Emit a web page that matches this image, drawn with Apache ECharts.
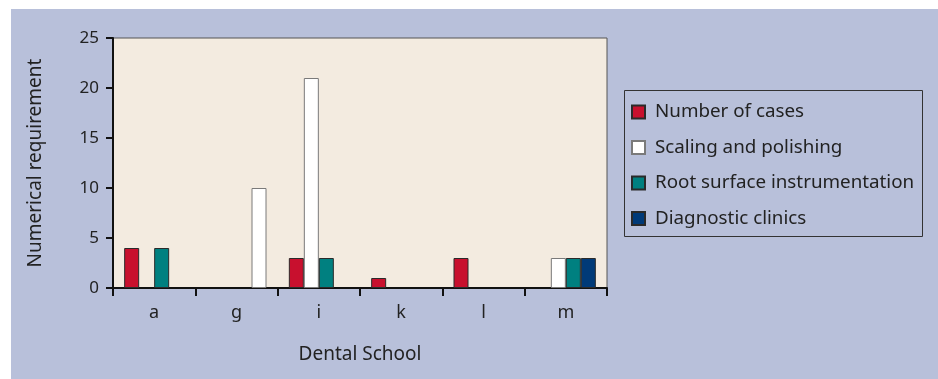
<!DOCTYPE html>
<html>
<head>
    <meta charset="utf-8">
    <title>Dental School requirements</title>
    <script src="https://cdn.jsdelivr.net/npm/echarts@6/dist/echarts.min.js"></script>
    <style>
        body { margin: 0; background: #ffffff; }
        #bg { position: absolute; left: 11px; top: 9px; width: 927px; height: 370px; background: #b8c0da; }
        #main { position: absolute; left: 0; top: 0; width: 938px; height: 379px; }
    </style>
</head>
<body>
    <div id="bg"></div>
    <div id="main"></div>
    <script type="text/javascript">
        var schools = ['a', 'g', 'i', 'k', 'l', 'm'];
        var numberOfCases = [4, 0, 3, 1, 3, 0];
        var scalingPolishing = [0, 0, 21, 0, 0, 3];
        var rootSurface = [4, 0, 3, 0, 0, 3];
        // in the picture the bar for school g sits in the 4th slot but is drawn white
        var diagnosticClinics = [0, 10, 0, 0, 0, 3];
        var yTicks = [0, 5, 10, 15, 20, 25];

        var myChart = echarts.init(document.getElementById('main'));
        var font = 'Noto Sans';

        function toData(arr) {
            return arr.map(function (v) { return v === 0 ? '-' : v; });
        }

        var diagData = toData(diagnosticClinics);
        diagData[1] = { value: diagnosticClinics[1], itemStyle: { color: '#ffffff', borderColor: '#7a7a7a' } };

        function bar(name, data, color, border) {
            return {
                name: name,
                type: 'bar',
                data: data,
                barWidth: 15,
                barGap: 0,
                itemStyle: { color: color, borderColor: border, borderWidth: 1 }
            };
        }

        option = {
            animation: false,
            textStyle: { fontFamily: font },
            grid: {
                left: 113, top: 38, width: 494, height: 250,
                show: true,
                backgroundColor: '#f3ebe0',
                borderColor: '#555555',
                borderWidth: 1
            },
            legend: {
                orient: 'vertical',
                left: 631,
                top: 102,
                padding: 0,
                itemWidth: 13,
                itemHeight: 13,
                itemGap: 15.5,
                icon: 'rect',
                textStyle: { fontFamily: font, fontSize: 18.8, color: '#222222', lineHeight: 20, padding: [0, 0, 0, 5] },
                data: ['Number of cases', 'Scaling and polishing', 'Root surface instrumentation', 'Diagnostic clinics']
            },
            graphic: [{
                type: 'rect',
                shape: { x: 624.5, y: 90.5, width: 298, height: 146 },
                style: { fill: 'none', stroke: '#333333', lineWidth: 1 }
            }],
            xAxis: {
                type: 'category',
                data: schools,
                name: 'Dental School',
                nameLocation: 'middle',
                nameGap: 57,
                nameTextStyle: { fontFamily: font, fontSize: 19, color: '#222222' },
                axisLine: { lineStyle: { color: '#111111', width: 2 } },
                axisTick: { show: true, length: 8, lineStyle: { color: '#111111', width: 2 } },
                axisLabel: { fontFamily: font, fontSize: 18, color: '#222222', margin: 16 }
            },
            yAxis: {
                type: 'value',
                min: yTicks[0],
                max: yTicks[yTicks.length - 1],
                interval: 5,
                name: 'Numerical requirement',
                nameLocation: 'middle',
                nameGap: 68,
                nameTextStyle: { fontFamily: font, fontSize: 19, color: '#222222' },
                splitLine: { show: false },
                axisLine: { show: true, lineStyle: { color: '#111111', width: 2 } },
                axisTick: { show: true, length: 7, lineStyle: { color: '#111111', width: 2 } },
                axisLabel: { fontFamily: font, fontSize: 17, color: '#222222', margin: 14 }
            },
            series: [
                bar('Number of cases', toData(numberOfCases), '#c8102e', '#2a2a2a'),
                bar('Scaling and polishing', toData(scalingPolishing), '#ffffff', '#7a7a7a'),
                bar('Root surface instrumentation', toData(rootSurface), '#008080', '#2a2a2a'),
                bar('Diagnostic clinics', diagData, '#003a78', '#2a2a2a')
            ]
        };

        myChart.setOption(option);
    </script>
</body>
</html>
